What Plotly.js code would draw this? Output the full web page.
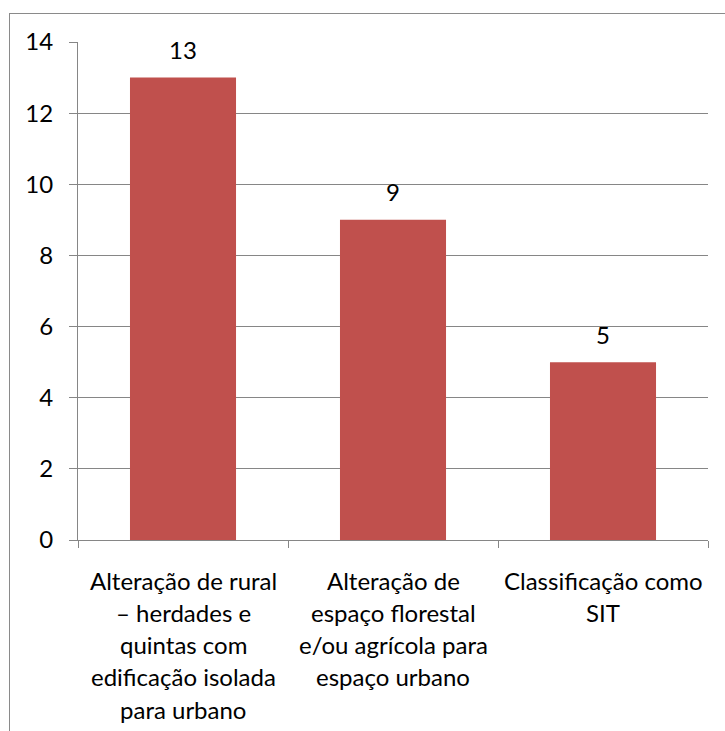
<!DOCTYPE html>
<html>
<head>
<meta charset="utf-8">
<script src="https://cdn.plot.ly/plotly-3.0.1.min.js"></script>
<style>
html,body{margin:0;padding:0;background:#fff;}
#chart{position:absolute;left:0;top:0;width:725px;height:731px;}
#frame{position:absolute;left:9px;top:13px;width:730px;height:730px;border-left:1px solid #8a8a8a;border-top:1px solid #8a8a8a;pointer-events:none;}
</style>
</head>
<body>
<div id="chart"></div>
<div id="frame"></div>
<script>
const categories = ["cat1", "cat2", "cat3"];
const categoryLines = [
  ["Alteração de rural", "– herdades e", "quintas com", "edificação isolada", "para urbano"],
  ["Alteração de", "espaço florestal", "e/ou agrícola para", "espaço urbano"],
  ["Classificação como", "SIT"]
];
const values = [13, 9, 5];
const yTicks = [0, 2, 4, 6, 8, 10, 12, 14];

const font = {family: "Lato, Open Sans, sans-serif", size: 24, color: "#000"};

const annotations = [];
values.forEach((v, i) => {
  annotations.push({
    x: categories[i], y: v, xref: "x", yref: "y",
    text: String(v), showarrow: false, yanchor: "middle", yshift: 28, font: font
  });
});
categoryLines.forEach((lines, i) => {
  lines.forEach((t, j) => {
    annotations.push({
      x: categories[i], y: 0, xref: "x", yref: "paper",
      text: t, showarrow: false, yanchor: "middle", yshift: -(40 + 32.3 * j), font: font
    });
  });
});

Plotly.newPlot("chart", [{
  type: "bar",
  x: categories,
  y: values,
  marker: {color: "#C0504D", line: {width: 0}},
  width: 0.505,
  hoverinfo: "none"
}], {
  width: 725, height: 731,
  margin: {l: 78, r: 17, t: 42, b: 191, pad: 0},
  paper_bgcolor: "#fff", plot_bgcolor: "#fff",
  showlegend: false,
  font: font,
  xaxis: {
    type: "category",
    showticklabels: false,
    showgrid: false,
    showline: true, linecolor: "#868686", linewidth: 1,
    ticks: "outside", tickson: "boundaries", ticklen: 7, tickcolor: "#868686", tickwidth: 1,
    zeroline: false,
    range: [-0.5, 2.5]
  },
  yaxis: {
    range: [0, 14],
    tickvals: yTicks,
    ticktext: yTicks.map(String),
    showgrid: true, gridcolor: "#868686", gridwidth: 1,
    showline: true, linecolor: "#868686", linewidth: 1,
    ticks: "outside", ticklen: 8, tickcolor: "#868686",
    zeroline: false,
    tickfont: font,
    ticklabelstandoff: 11
  },
  annotations: annotations
}, {displayModeBar: false, staticPlot: true});
</script>
</body>
</html>
